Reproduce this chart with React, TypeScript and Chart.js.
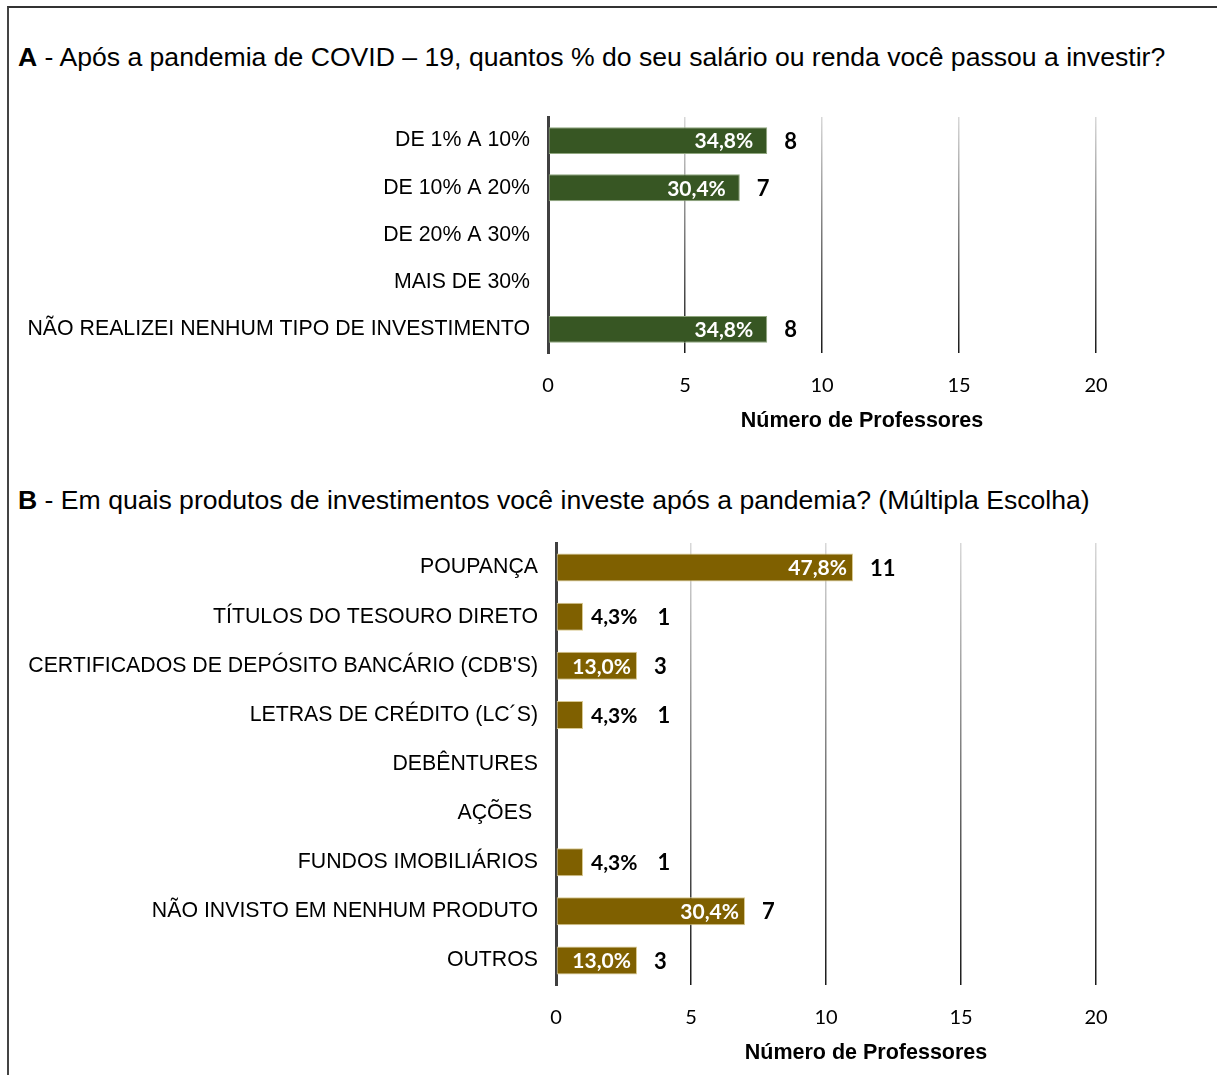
import React, { useEffect, useRef } from "react";
import { Chart, registerables } from "chart.js";

Chart.register(...registerables);

const titleA = "Após a pandemia de COVID – 19, quantos % do seu salário ou renda você passou a investir?";
const titleB = "Em quais produtos de investimentos você investe após a pandemia? (Múltipla Escolha)";
const axisTitle = "Número de Professores";

const categoriesA = [
  "DE 1% A 10%",
  "DE 10% A 20%",
  "DE 20% A 30%",
  "MAIS DE 30%",
  "NÃO REALIZEI NENHUM TIPO DE INVESTIMENTO",
];
const countsA = [8, 7, 0, 0, 8];
const percentA = ["34,8%", "30,4%", "", "", "34,8%"];

const categoriesB = [
  "POUPANÇA",
  "TÍTULOS DO TESOURO DIRETO",
  "CERTIFICADOS DE DEPÓSITO BANCÁRIO (CDB'S)",
  "LETRAS DE CRÉDITO (LC´S)",
  "DEBÊNTURES",
  "AÇÕES ",
  "FUNDOS IMOBILIÁRIOS",
  "NÃO INVISTO EM NENHUM PRODUTO",
  "OUTROS",
];
const countsB = [11, 1, 3, 1, 0, 0, 1, 7, 3];
const percentB = ["47,8%", "4,3%", "13,0%", "4,3%", "", "", "4,3%", "30,4%", "13,0%"];

const xMin = 0;
const xMax = 20;
const xStep = 5;

const labelPlugin = {
  id: "barLabels",
  afterDatasetsDraw(chart: any, _args: any, opts: any) {
    const { ctx } = chart;
    const meta = chart.getDatasetMeta(0);
    const counts = chart.data.datasets[0].data as number[];
    const pcts: string[] = opts.pcts || [];
    ctx.save();
    ctx.textBaseline = "middle";
    meta.data.forEach((bar: any, i: number) => {
      const v = counts[i];
      if (!v) return;
      const end = bar.x;
      const w = end - bar.base;
      const y = bar.y + 1;
      ctx.font = "bold 21px Lato";
      const tw = ctx.measureText(pcts[i]).width;
      let countX: number;
      if (w >= tw + 10) {
        ctx.fillStyle = "#ffffff";
        ctx.textAlign = "right";
        ctx.fillText(pcts[i], end - opts.inPad, y);
        countX = end + 17;
      } else {
        ctx.fillStyle = "#000000";
        ctx.textAlign = "left";
        ctx.fillText(pcts[i], end + 8, y);
        countX = end + 8 + tw + 20;
      }
      ctx.font = "bold 22px Lato";
      ctx.fillStyle = "#000000";
      ctx.textAlign = "left";
      ctx.fillText(String(v), countX, y);
    });
    ctx.restore();
  },
};

const axisTitlePlugin = {
  id: "axisTitle",
  afterDraw(chart: any, _args: any, opts: any) {
    const { ctx, chartArea } = chart;
    ctx.save();
    ctx.font = "bold 21.5px 'Liberation Sans', Arial, sans-serif";
    ctx.fillStyle = "#000000";
    ctx.textAlign = "center";
    ctx.textBaseline = "middle";
    const cx = (chartArea.left + chartArea.right) / 2 + opts.dx;
    ctx.fillText(opts.text, cx, chartArea.bottom + opts.dy);
    ctx.restore();
  },
};

type Props = {
  categories: string[];
  counts: number[];
  percents: string[];
  color: string;
  border: string;
  width: number;
  height: number;
  axisWidth: number;
  padTop: number;
  padRight: number;
  padBottom: number;
  inPad: number;
};

function HBar(p: Props) {
  const ref = useRef<HTMLCanvasElement | null>(null);
  useEffect(() => {
    if (!ref.current) return;
    const chart = new Chart(ref.current, {
      type: "bar",
      data: {
        labels: p.categories,
        datasets: [
          {
            data: p.counts,
            backgroundColor: p.color,
            borderColor: p.border,
            borderWidth: 1,
            borderSkipped: false,
            categoryPercentage: 1,
            barPercentage: 0.57,
          },
        ],
      },
      plugins: [labelPlugin, axisTitlePlugin],
      options: {
        indexAxis: "y",
        responsive: false,
        animation: false,
        events: [],
        layout: { padding: { left: 0, top: p.padTop, right: p.padRight, bottom: p.padBottom } },
        plugins: {
          legend: { display: false },
          tooltip: { enabled: false },
          title: { display: false },
          barLabels: { pcts: p.percents, inPad: p.inPad },
          axisTitle: { text: axisTitle, dx: 40, dy: 68 },
        } as any,
        scales: {
          x: {
            min: xMin,
            max: xMax,
            ticks: {
              stepSize: xStep,
              padding: 21,
              color: "#000000",
              font: { family: "Lato", size: 20 },
            },
            grid: {
              drawTicks: false,
              lineWidth: 1.5,
              color: (c: any) => {
                if (c.tick && c.tick.value === 0) return "rgba(0,0,0,0)";
                const ca = c.chart.chartArea;
                if (!ca) return "#777777";
                const g = c.chart.ctx.createLinearGradient(0, ca.top, 0, ca.bottom);
                g.addColorStop(0, "#d8d8d8");
                g.addColorStop(1, "#1a1a1a");
                return g;
              },
            },
            border: { display: false },
            afterFit: (s: any) => {
              s.height = 80;
              s.paddingLeft = 0;
              s.paddingRight = 0;
            },
          },
          y: {
            ticks: {
              padding: 18,
              color: "#000000",
              font: { family: "'Liberation Sans', Arial, sans-serif", size: 21.3 },
            },
            grid: { display: false, drawTicks: false },
            border: { display: true, color: "#404040", width: 3 },
            afterFit: (s: any) => {
              s.width = p.axisWidth;
              s.paddingTop = 0;
              s.paddingBottom = 0;
            },
          },
        },
      } as any,
    });
    return () => chart.destroy();
  }, []);
  return (
    <canvas
      ref={ref}
      width={p.width}
      height={p.height}
      style={{ width: p.width, height: p.height, display: "block" }}
    />
  );
}

const headingStyle: React.CSSProperties = {
  position: "absolute",
  left: 18,
  fontFamily: "'Liberation Sans', Arial, sans-serif",
  fontSize: 26.6,
  lineHeight: "30px",
  color: "#000",
  whiteSpace: "nowrap",
};

export default function App() {
  return (
    <div
      style={{
        position: "absolute",
        left: 0,
        top: 0,
        width: 1217,
        height: 1075,
        background: "#fff",
        overflow: "hidden",
      }}
    >
      <div
        style={{
          position: "absolute",
          left: 7,
          top: 6,
          right: 0,
          bottom: -10,
          borderLeft: "2px solid #444",
          borderTop: "2px solid #333",
        }}
      />
      <div style={{ ...headingStyle, top: 42 }}>
        <b>A</b> - {titleA}
      </div>
      <div style={{ position: "absolute", left: 0, top: 100 }}>
        <HBar
          categories={categoriesA}
          counts={countsA}
          percents={percentA}
          color="#375623"
          border="#8fa67e"
          width={1217}
          height={350}
          axisWidth={548}
          padTop={17}
          padRight={121}
          padBottom={17}
          inPad={14}
        />
      </div>
      <div style={{ ...headingStyle, top: 485 }}>
        <b>B</b> - {titleB}
      </div>
      <div style={{ position: "absolute", left: 0, top: 525 }}>
        <HBar
          categories={categoriesB}
          counts={countsB}
          percents={percentB}
          color="#7F6000"
          border="#d8c890"
          width={1217}
          height={550}
          axisWidth={556}
          padTop={18}
          padRight={121}
          padBottom={10}
          inPad={6}
        />
      </div>
    </div>
  );
}
